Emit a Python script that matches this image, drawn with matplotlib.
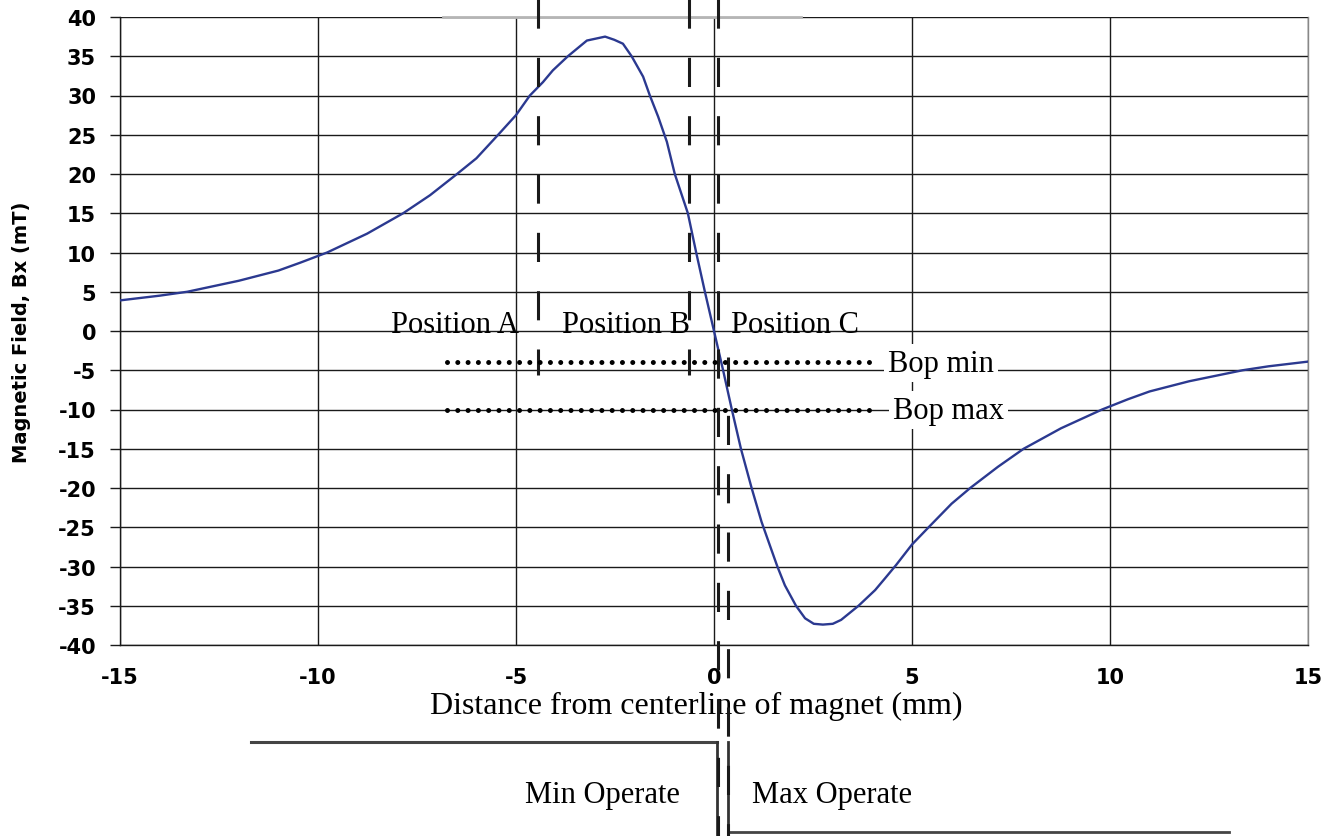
import matplotlib
matplotlib.use("Agg")
import matplotlib.pyplot as plt

plt.rcParams['lines.scale_dashes'] = False
plt.rcParams['axes.unicode_minus'] = False

# curve (distance mm, field mT)
dist = [-15, -14, -13.3, -12, -11, -10.45, -9.77, -8.76, -7.85, -7.17, -6.49, -6,
        -5.45, -5.0, -4.65, -4.32, -4.07, -3.69, -3.21, -2.75, -2.52, -2.3, -2.08,
        -1.79, -1.62, -1.41, -1.19, -0.99, -0.66, -0.45, -0.23, 0,
        0.23, 0.45, 0.68, 0.95, 1.2, 1.41, 1.6, 1.79, 2.07, 2.3, 2.52, 2.75,
        3.0, 3.21, 3.65, 4.07, 4.32, 4.6, 5.0, 5.42, 6.0, 6.47, 7.17, 7.82, 8.76,
        9.8, 10.45, 11, 12, 13.35, 14, 15]
field = [3.9, 4.5, 5.0, 6.4, 7.7, 8.7, 10.0, 12.4, 15.0, 17.3, 20.0, 22.0,
         25.0, 27.5, 30.0, 31.7, 33.2, 35.0, 37.0, 37.5, 37.1, 36.6, 35.0,
         32.4, 30.0, 27.3, 24.1, 20.0, 15.0, 10.0, 5.0, 0.0,
         -5.0, -10.0, -15.0, -20.0, -24.3, -27.3, -30.0, -32.4, -35.0, -36.6, -37.3, -37.4,
         -37.3, -36.8, -35.0, -33.0, -31.5, -29.8, -27.2, -25.0, -22.0, -20.0, -17.3, -15.0, -12.4,
         -10.0, -8.7, -7.7, -6.4, -5.0, -4.5, -3.9]

xticks = [-15, -10, -5, 0, 5, 10, 15]
yticks = list(range(-40, 45, 5))

# operate point levels and switching positions
bop_levels = [-4, -10]
bop_labels = ['Bop min', 'Bop max']
bop_label_x = [4.39, 4.52]
pos_labels = ['Position A', 'Position B', 'Position C']
pos_x = [-6.53, -2.23, 2.05]
switch_x = [-4.44, -0.63]   # dashed lines ending near Bop min
operate_x = [0.1, 0.35]     # dashed lines running down to the bottom sketch

serif = 'Liberation Serif'
tickfont = 'DejaVu Sans'

fig = plt.figure(figsize=(13.34, 8.37), dpi=100)
ax = fig.add_axes([120 / 1334, 1 - 646 / 837, 1188 / 1334, 628 / 837])
ax.set_xlim(-15, 15)
ax.set_ylim(-40, 40)

ax.grid(True, color='#1a1a1a', linewidth=1.0)
ax.set_axisbelow(True)
ax.spines['top'].set_visible(False)
for s in ['left', 'bottom', 'right']:
    ax.spines[s].set_color('#1a1a1a')
    ax.spines[s].set_linewidth(1.0)
ax.spines['right'].set_color('#888888')

ax.set_xticks(xticks)
ax.set_yticks(yticks)
ax.tick_params(axis='y', length=7.2, width=1.0, pad=10, color='#1a1a1a')
ax.tick_params(axis='x', length=0, pad=16)
for lab in ax.get_xticklabels() + ax.get_yticklabels():
    lab.set_fontfamily(tickfont)
    lab.set_fontweight('bold')
    lab.set_fontsize(15)

ax.set_ylabel('Magnetic Field, Bx (mT)', family=tickfont, fontweight='bold', fontsize=14)
ax.yaxis.set_label_coords(-0.0825, 0.5)
ax.yaxis.label.set_va('center')
ax.set_xlabel('Distance from centerline of magnet (mm)', family=serif, fontsize=23)
ax.xaxis.set_label_coords(0.485, -0.0955)
ax.xaxis.label.set_va('center')

# field curve
ax.plot(dist, field, color='#2b3990', linewidth=1.7, zorder=4)

# thin gray remnant at the top of the plot
ax.plot([-6.85, 2.2], [40, 40], color='#b5b5b5', linewidth=2, clip_on=False, zorder=3)

top = 42.4
bottom = -64.5
for xv in switch_x:
    ax.plot([xv, xv], [top, -5.6], color='#1a1a1a', linewidth=2.2, dashes=(21, 21),
            clip_on=False, zorder=5)
ax.plot([operate_x[0], operate_x[0]], [top, bottom], color='#1a1a1a', linewidth=2.2,
        dashes=(21, 21), clip_on=False, zorder=5)
ax.plot([operate_x[1], operate_x[1]], [-3.3, bottom], color='#1a1a1a', linewidth=2.2,
        dashes=(21, 21), clip_on=False, zorder=5)

# Bop dotted lines and labels
for lvl, lab, lx in zip(bop_levels, bop_labels, bop_label_x):
    ax.plot([-6.75, 4.0], [lvl, lvl], color='black', linewidth=3.6, dashes=(0.01, 7.4),
            dash_capstyle='round', zorder=6)
    ax.text(lx, lvl - 1.05, lab, family=serif, fontsize=22, va='baseline', ha='left',
            zorder=7, bbox=dict(facecolor='white', edgecolor='none', pad=3))

for xv, lab in zip(pos_x, pos_labels):
    ax.text(xv, -0.1, lab, family=serif, fontsize=22, va='baseline', ha='center', zorder=7)

# bottom sketch of the min / max operate positions
ax.plot([-11.7, 0.08], [-52.3, -52.3], color='#444444', linewidth=2.2, clip_on=False)
ax.plot([0.08, 0.08], [-52.3, bottom], color='#333333', linewidth=2.0, clip_on=False)
ax.plot([0.35, 0.35], [-52.3, bottom], color='#333333', linewidth=2.0, clip_on=False)
ax.plot([0.35, 13.0], [-63.8, -63.8], color='#444444', linewidth=2.0, clip_on=False)
ax.text(-0.85, -59.0, 'Min Operate', family=serif, fontsize=22, ha='right', va='center')
ax.text(0.95, -59.0, 'Max Operate', family=serif, fontsize=22, ha='left', va='center')

fig.savefig('out.png', dpi=100)
